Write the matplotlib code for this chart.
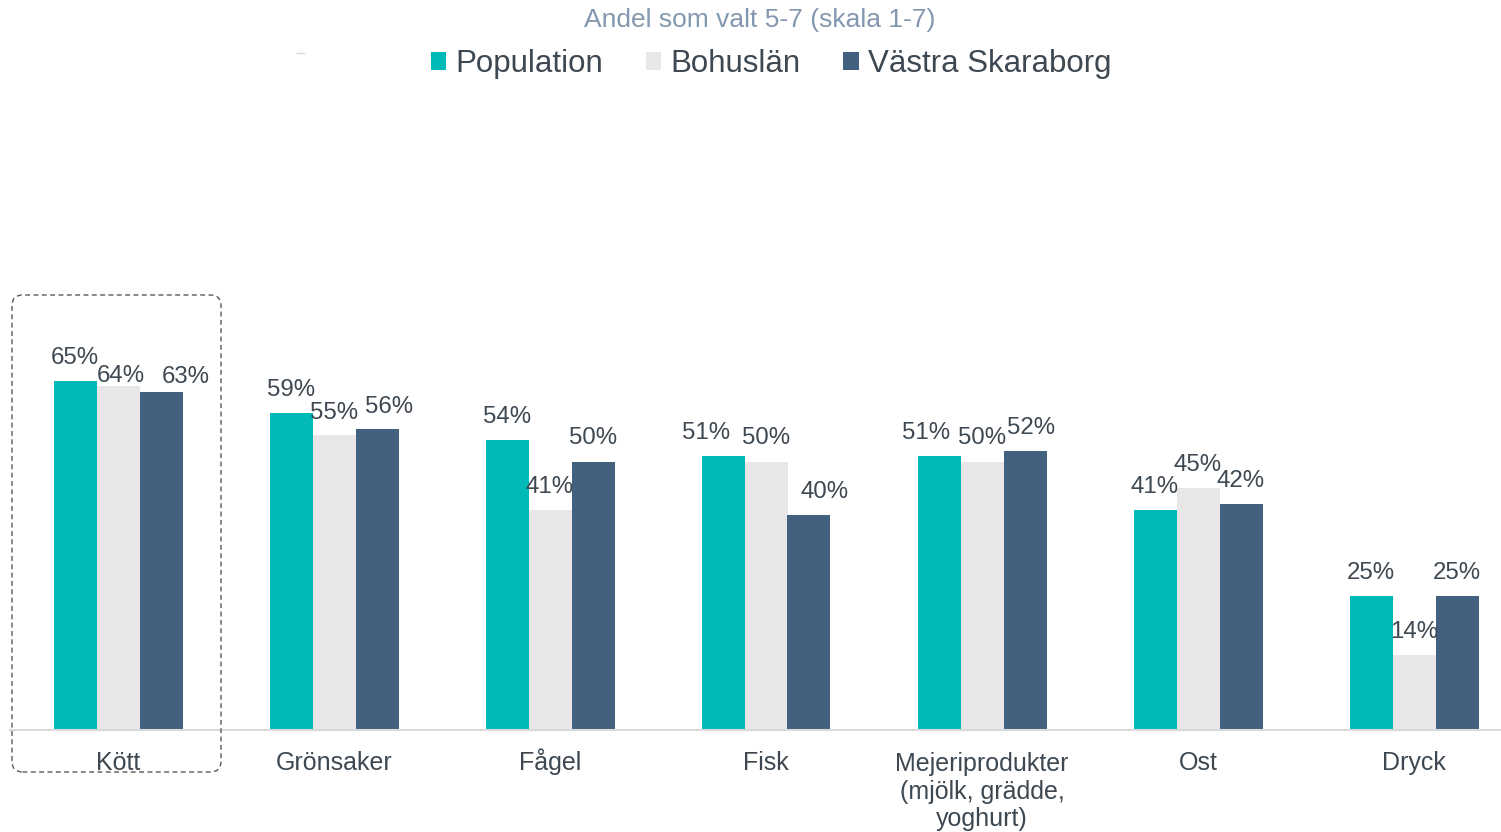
import numpy as np
import matplotlib.pyplot as plt
from matplotlib.patches import FancyBboxPatch
from matplotlib.lines import Line2D

# --- DU LIEU ---
kategorier = ["Kött", "Grönsaker", "Fågel", "Fisk",
              "Mejeriprodukter\n(mjölk, grädde,\nyoghurt)", "Ost", "Dryck"]
serier = ["Population", "Bohuslän", "Västra Skaraborg"]
population = [65, 59, 54, 51, 51, 41, 25]
bohuslan = [64, 55, 41, 50, 50, 45, 14]
vastra_skaraborg = [63, 56, 50, 40, 52, 42, 25]

# --- STIL ---
farger = ["#00BAB8", "#E7E7E7", "#42617F"]
textfarg = "#3D4852"
titelfarg = "#8497B0"
# forskjutning av etiketter (pixlar) dar Excel har flyttat dem
etikett_dx = [[0, 0, 0, -17, -13, 0, 0],
              [3, 0, 0, 0, 0, 0, 0],
              [25, 12, 0, 16, 6, 0, 0]]
etikett_dy = [[23] * 7,
              [10, 22, 23, 23, 23, 23, 23],
              [15, 22, 23, 23, 23, 23, 23]]

plt.rcParams['font.family'] = ['Liberation Sans', 'DejaVu Sans']

W, H = 1501, 832
fig = plt.figure(figsize=(W / 100, H / 100), dpi=100)
ax = fig.add_axes([10 / W, 102 / H, 1 - 10 / W, 537 / H])

x = np.arange(len(kategorier))
bredd = 43 / 216
varden = [population, bohuslan, vastra_skaraborg]

for i, (namn, v) in enumerate(zip(serier, varden)):
    pos = x + (i - 1) * bredd
    ax.bar(pos, v, width=bredd, color=farger[i], label=namn, zorder=2)
    for j, val in enumerate(v):
        ax.annotate(f"{val}%", (pos[j], val),
                    xytext=(etikett_dx[i][j] * 0.72, etikett_dy[i][j] * 0.72),
                    textcoords="offset points", ha="center", va="center",
                    fontsize=17.3, color=textfarg)

ax.set_xlim(-0.5, -0.5 + (W - 10) / 216)
ax.set_ylim(0, 100)
ax.set_xticks(x)
ax.tick_params(axis='x', length=0, labelbottom=False)
ax.set_yticks([])

# kategorinamn under axeln (egna texter sa att baslinjen blir lika)
for j, kat in enumerate(kategorier):
    if "\n" in kat:
        ax.annotate(kat, (x[j], 0), xytext=(0, -16.2), textcoords="offset points",
                    ha="center", va="top", fontsize=18, color=textfarg,
                    linespacing=1.16, annotation_clip=False)
    else:
        ax.annotate(kat, (x[j], 0), xytext=(0, -29), textcoords="offset points",
                    ha="center", va="baseline", fontsize=18, color=textfarg,
                    annotation_clip=False)

for s in ["top", "right", "left"]:
    ax.spines[s].set_visible(False)
ax.spines["bottom"].set_color("#D9D9D9")
ax.spines["bottom"].set_linewidth(1.5)

# tieu de va chu giai
fig.text(760 / W, 1 - 20 / H, "Andel som valt 5-7 (skala 1-7)",
         ha="center", va="center", fontsize=19, color=titelfarg)
fig.legend(loc="center", bbox_to_anchor=(771 / W, 1 - 64 / H), ncol=3,
           frameon=False, fontsize=22.5, labelcolor=textfarg,
           handlelength=0.5, handleheight=0.5, handletextpad=0.3,
           columnspacing=1.35)

# lite streck uppe till vanster
fig.add_artist(Line2D([297 / W, 304 / W], [1 - 53 / H, 1 - 53 / H],
                      color="#D9D9D9", lw=1))

# streckad ruta runt Kött
ruta = FancyBboxPatch((12 / W, 1 - 772 / H), 209 / W, 477 / H,
                      boxstyle="round,pad=0,rounding_size=0.007",
                      mutation_aspect=W / H, transform=fig.transFigure,
                      fill=False, edgecolor="#595959", lw=1.0,
                      linestyle=(0, (3.5, 2.5)))
fig.add_artist(ruta)

fig.savefig("out.png", dpi=100)
